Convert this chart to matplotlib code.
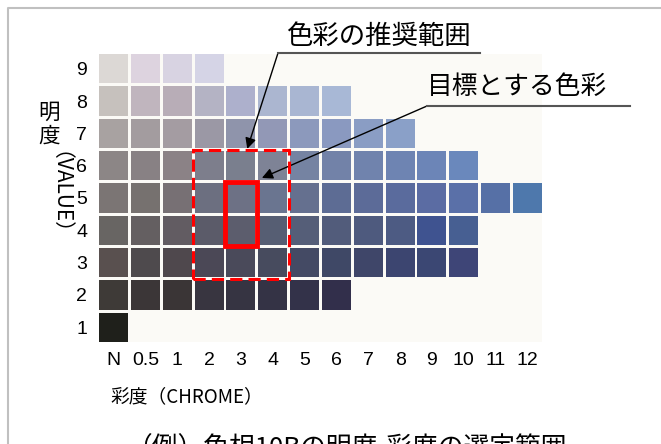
import matplotlib
matplotlib.use("Agg")
import matplotlib.pyplot as plt
from matplotlib.patches import Rectangle
from matplotlib.lines import Line2D

plt.rcParams['font.family'] = ['Liberation Sans', 'Noto Sans CJK JP', 'DejaVu Sans']

W, H = 661, 444
JP = ['Noto Sans CJK JP', 'DejaVu Sans']

# ---- data ----
chroma_labels = ['N', '0.5', '1', '2', '3', '4', '5', '6', '7', '8', '9', '10', '11', '12']
value_labels = [1, 2, 3, 4, 5, 6, 7, 8, 9]

row_v9 = ['#dcd8d5', '#ddd3df', '#d8d3e2', '#d5d4e6']
row_v8 = ['#c6c1bd', '#c0b5be', '#b8adb7', '#b4b3c4', '#adb0cc', '#abb6d0', '#a9b6d2', '#a8b8d6']
row_v7 = ['#a8a2a1', '#a39c9f', '#a49ca2', '#9b98a5', '#8f94ab', '#9298b6', '#8c99bc', '#8a99c0',
          '#8a9dc4', '#8aa0c8']
row_v6 = ['#8c8686', '#888184', '#8b8286', '#7d7e8c', '#7a7f8e', '#7e8396', '#7583a2', '#7282a8',
          '#7083ad', '#6e84b2', '#6c85b7', '#6a88bc']
row_v5 = ['#7b7574', '#76716f', '#777074', '#6c6f80', '#6d7185', '#6a7590', '#65708f', '#5d6c94',
          '#5c6b98', '#5a6b9d', '#5b6ca3', '#5a70a8', '#5670a6', '#4e78ac']
row_v4 = ['#686563', '#645f61', '#625c62', '#5b5b69', '#5c5d6d', '#565e73', '#555e78', '#525c7b',
          '#4e5a7e', '#4d5b83', '#3f5390', '#475f92']
row_v3 = ['#59504f', '#4e4a4d', '#4f484d', '#4b4856', '#4a4a5a', '#474b5e', '#444a64', '#3f4866',
          '#3f4669', '#3c4570', '#3b4773', '#3e4577']
row_v2 = ['#3e3a37', '#3b3637', '#3a3536', '#383540', '#363442', '#343345', '#333249', '#322f4b']
row_v1 = ['#1f201b']

rows = [row_v1, row_v2, row_v3, row_v4, row_v5, row_v6, row_v7, row_v8, row_v9]

# recommended range (chroma index span, value span) and target colour
recommended_chroma = (3, 5)   # indices of '2'..'4'
recommended_value = (3, 6)
target_chroma = 4             # '3'
target_value = (4, 5)

# ---- figure ----
fig = plt.figure(figsize=(W / 100, H / 100), dpi=100)
fig.patch.set_facecolor('white')

gx, gy = 0.09, 0.09
ax = fig.add_axes([99 / W, (H - 342) / H, (542 - 99) / W, (342 - 54) / H])
ax.set_xlim(-0.5 + gx / 2, len(chroma_labels) - 0.5 - gx / 2)
ax.set_ylim(0.5 + gy / 2, 9.5 - gy / 2)
ax.set_facecolor('#fbfaf6')
for s in ax.spines.values():
    s.set_visible(False)

for v, row in zip(value_labels, rows):
    for c, col in enumerate(row):
        ax.add_patch(Rectangle((c - 0.5 + gx / 2, v - 0.5 + gy / 2), 1 - gx, 1 - gy,
                               facecolor=col, edgecolor='none'))

ax.set_xticks(range(len(chroma_labels)))
ax.set_xticklabels(chroma_labels)
ax.set_yticks(value_labels)
ax.set_yticklabels([str(v) for v in value_labels])
ax.tick_params(axis='x', length=0, pad=7, labelsize=14)
ax.tick_params(axis='y', length=0, pad=8.5, labelsize=14)

# dashed recommended range
c0, c1 = recommended_chroma
v0, v1 = recommended_value
ax.add_patch(Rectangle((c0 - 0.5, v0 - 0.5), c1 - c0 + 1, v1 - v0 + 1, fill=False,
                       edgecolor='#ff0000', lw=2.2, linestyle=(0, (4, 2)), zorder=5))
# solid target
ax.add_patch(Rectangle((target_chroma - 0.5, target_value[0] - 0.5), 1,
                       target_value[1] - target_value[0] + 1, fill=False,
                       edgecolor='#ff0000', lw=3.5, zorder=6))

# annotations
arrow = dict(arrowstyle='-|>', color='black', lw=1.0, mutation_scale=16, shrinkA=0, shrinkB=0)
ax.annotate('', xy=(4.2, 6.52), xycoords='data', xytext=(278, H - 53),
            textcoords='figure pixels', arrowprops=arrow, annotation_clip=False)
ax.annotate('', xy=(4.66, 5.62), xycoords='data', xytext=(427, H - 106),
            textcoords='figure pixels', arrowprops=arrow, annotation_clip=False)
fig.add_artist(Line2D([278 / W, 480 / W], [1 - 53 / H] * 2, color='#555555', lw=1.5))
fig.add_artist(Line2D([427 / W, 630 / W], [1 - 106 / H] * 2, color='#555555', lw=1.5))
fig.text(378 / W, 1 - 36 / H, '色彩の推奨範囲', ha='center', va='center', fontsize=19, family=JP)
fig.text(517 / W, 1 - 87 / H, '目標とする色彩', ha='center', va='center', fontsize=18.5, family=JP)

# axis titles
fig.text(49 / W, 1 - 113 / H, '明', ha='center', va='center', fontsize=15.5, family=JP)
fig.text(49 / W, 1 - 137 / H, '度', ha='center', va='center', fontsize=15.5, family=JP)
fig.text(49 / W, 1 - 203 / H, '（VALUE）', ha='center', va='center', fontsize=15,
         rotation=-90, family=JP)
fig.text(110 / W, 1 - 397 / H, '彩度（CHROME）', ha='left', va='center', fontsize=13.5, family=JP)

# caption (cut off at bottom, as in the source)
fig.text(126 / W, 1 - 436 / H, '（例）色相10Bの明度-彩度の選定範囲', ha='left', va='top',
         fontsize=18.5, family=JP)

# frame
fig.add_artist(Line2D([8 / W, 8 / W, 1.0], [0.0, 1 - 8 / H, 1 - 8 / H], color='#c0c0c0', lw=1.5))

fig.savefig('out.png', dpi=100)
